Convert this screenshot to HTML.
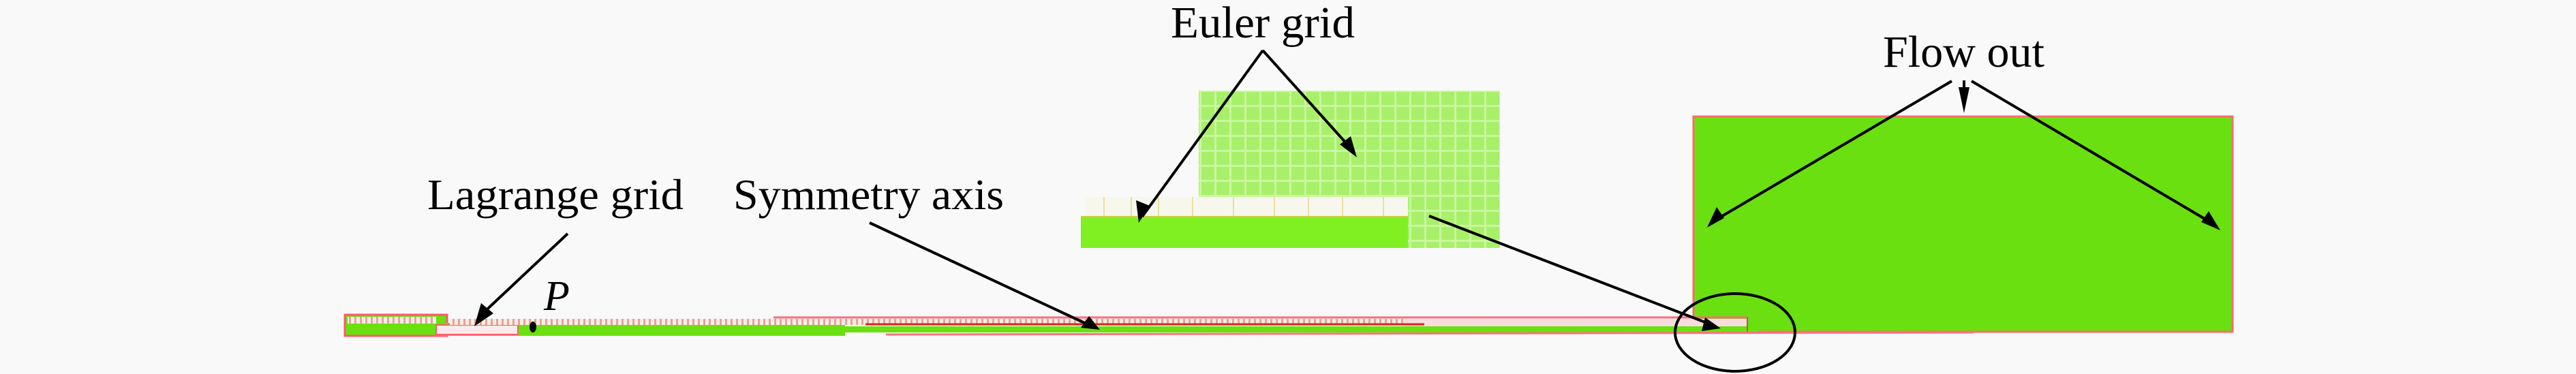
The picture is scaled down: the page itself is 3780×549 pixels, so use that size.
<!DOCTYPE html>
<html><head><meta charset="utf-8"><style>
html,body{margin:0;padding:0;background:#f9f9f9;}
svg{display:block;}
text{font-family:"Liberation Serif",serif;fill:#000;}
</style></head><body>
<svg width="3780" height="549" viewBox="0 0 3780 549" xmlns="http://www.w3.org/2000/svg">
<defs>
<pattern id="eg" width="22" height="22" patternUnits="userSpaceOnUse">
<rect width="22" height="22" fill="#a8f06a"/>
<rect x="0" y="0" width="3" height="22" fill="#c9f7a0"/>
<rect x="0" y="0" width="22" height="3" fill="#c9f7a0"/>
</pattern>
<pattern id="hatch" width="8" height="10" patternUnits="userSpaceOnUse">
<rect width="8" height="10" fill="#f4f0e0"/>
<rect x="0" width="3" height="10" fill="#e8a0a0"/>
</pattern>
</defs>
<rect width="3780" height="549" fill="#f9f9f9"/>

<!-- Euler grid pale block -->
<rect x="1759" y="133" width="442" height="231" fill="url(#eg)"/>
<rect x="1592" y="289" width="474" height="28" fill="#f7f7ee"/>
<g stroke="#e8e0a0" stroke-width="2">
<line x1="1620" y1="289" x2="1620" y2="317"/><line x1="1660" y1="289" x2="1660" y2="317"/>
<line x1="1700" y1="289" x2="1700" y2="317"/><line x1="1750" y1="289" x2="1750" y2="317"/>
<line x1="1810" y1="289" x2="1810" y2="317"/><line x1="1870" y1="289" x2="1870" y2="317"/>
<line x1="1920" y1="289" x2="1920" y2="317"/><line x1="1970" y1="289" x2="1970" y2="317"/>
<line x1="2030" y1="289" x2="2030" y2="317"/>
</g>
<rect x="1586" y="317" width="480" height="47" fill="#80f022"/>
<line x1="1586" y1="318" x2="2066" y2="318" stroke="#c8d040" stroke-width="2"/>

<!-- Big flow-out block -->
<rect x="2485" y="171" width="791" height="316" fill="#6ae010" stroke="#ff6a6a" stroke-width="3"/>

<!-- Axis strip -->
<rect x="506" y="462" width="150" height="31" fill="#6ae010" stroke="#ff5a6a" stroke-width="3"/>
<rect x="510" y="465" width="130" height="10" fill="url(#hatch)"/>
<rect x="640" y="474" width="600" height="19" fill="#6ae010"/>
<rect x="640" y="477" width="120" height="14" fill="#fbeaea" stroke="#ff5a6a" stroke-width="2"/>
<rect x="660" y="468" width="1400" height="9" fill="url(#hatch)"/>
<line x1="1135" y1="466" x2="2564" y2="466" stroke="#ff6a80" stroke-width="3"/>
<rect x="2060" y="468" width="504" height="12" fill="#f6dede"/>
<line x1="1270" y1="476" x2="2090" y2="476" stroke="#e02020" stroke-width="3"/>
<rect x="1240" y="479" width="1340" height="9" fill="#6ae010"/>
<line x1="1300" y1="491" x2="2896" y2="488" stroke="#ff7080" stroke-width="3"/>
<line x1="2564" y1="466" x2="2564" y2="487" stroke="#c05050" stroke-width="2"/>

<!-- Arrows -->
<g stroke="#000" stroke-width="4" fill="none">
<line x1="833" y1="343" x2="702" y2="466"/>
<line x1="1276" y1="327" x2="1600" y2="478"/>
<line x1="1853" y1="74" x2="1676" y2="318"/>
<line x1="1853" y1="74" x2="1986" y2="222"/>
<line x1="2097" y1="317" x2="2515" y2="478"/>
<line x1="2864" y1="119" x2="2512" y2="326"/>
<line x1="2893" y1="119" x2="3250" y2="330"/>
<line x1="2882" y1="118" x2="2882" y2="150"/>
</g>
<g fill="#000">
<polygon points="696,479 706,445 724,460"/>
<polygon points="1614,484 1586,481 1598,464"/>
<polygon points="1671,327 1667,294 1687,302"/>
<polygon points="1991,231 1966,212 1982,200"/>
<polygon points="2525,482 2497,486 2502,466"/>
<polygon points="2505,334 2519,304 2530,320"/>
<polygon points="3258,338 3230,326 3241,310"/>
<polygon points="2882,166 2874,128 2890,128"/>
</g>
<ellipse cx="2546" cy="488" rx="88" ry="57" fill="none" stroke="#000" stroke-width="4"/>
<ellipse cx="782" cy="480" rx="5" ry="8" fill="#000"/>

<!-- Labels -->
<text x="627" y="307" font-size="64" textLength="376" lengthAdjust="spacingAndGlyphs">Lagrange grid</text>
<text x="1076" y="307" font-size="64" textLength="397" lengthAdjust="spacingAndGlyphs">Symmetry axis</text>
<text x="1718" y="55" font-size="66" textLength="270" lengthAdjust="spacingAndGlyphs">Euler grid</text>
<text x="2763" y="98" font-size="66" textLength="237" lengthAdjust="spacingAndGlyphs">Flow out</text>
<text x="798" y="455" font-size="62" font-style="italic">P</text>
</svg>
</body></html>
